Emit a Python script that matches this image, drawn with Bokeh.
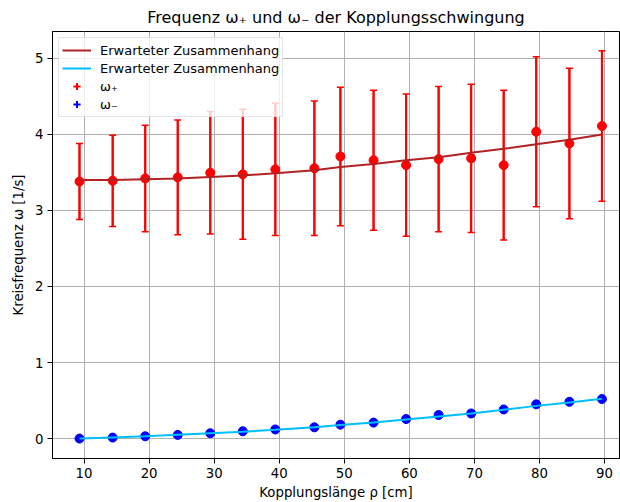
from bokeh.plotting import figure
from bokeh.models import ColumnDataSource, Whisker, TeeHead, Legend, LegendItem, FixedTicker, Range1d
from bokeh.embed import file_html
from bokeh.resources import INLINE
import numpy as np

# data
rho = [9.3, 14.4, 19.4, 24.4, 29.4, 34.4, 39.4, 45.4, 49.4, 54.5, 59.5, 64.5, 69.5, 74.5, 79.5, 84.6, 89.6]
omega_plus = [3.38, 3.39, 3.42, 3.435, 3.495, 3.475, 3.54, 3.555, 3.71, 3.66, 3.595, 3.675, 3.685, 3.595, 4.035, 3.88, 4.11]
omega_plus_err = [0.50, 0.60, 0.70, 0.755, 0.805, 0.855, 0.87, 0.885, 0.91, 0.92, 0.935, 0.955, 0.975, 0.985, 0.985, 0.99, 0.99]
omega_minus = [0.0, 0.013, 0.03, 0.048, 0.07, 0.096, 0.12, 0.148, 0.183, 0.21, 0.257, 0.31, 0.33, 0.383, 0.45, 0.484, 0.52]
expected_plus = [3.40, 3.40, 3.41, 3.42, 3.44, 3.46, 3.49, 3.53, 3.57, 3.61, 3.66, 3.70, 3.76, 3.81, 3.87, 3.93, 4.00]
expected_minus = [0.0, 0.015, 0.03, 0.05, 0.07, 0.09, 0.115, 0.15, 0.178, 0.21, 0.25, 0.29, 0.33, 0.38, 0.43, 0.475, 0.525]
x_ticks = [10, 20, 30, 40, 50, 60, 70, 80, 90]
y_ticks = [0, 1, 2, 3, 4, 5]

FONT = "DejaVu Sans"

p = figure(width=620, height=502, output_backend="svg", toolbar_location=None,
           x_range=Range1d(5.15, 92.3), y_range=Range1d(-0.262, 5.353),
           min_border_left=52, min_border_right=1, min_border_top=31, min_border_bottom=42)

p.title.text = "Frequenz ω₊ und ω₋ der Kopplungsschwingung"
p.title.align = "center"
p.title.text_font = FONT
p.title.text_font_size = "16px"
p.title.text_font_style = "normal"
p.title.text_color = "black"

p.outline_line_color = "black"
p.outline_line_width = 1
p.outline_line_alpha = 1

for ax in (p.xaxis, p.yaxis):
    ax.axis_label_text_font = FONT
    ax.axis_label_text_font_size = "13.3px"
    ax.axis_label_text_font_style = "normal"
    ax.axis_label_text_color = "black"
    ax.major_label_text_font = FONT
    ax.major_label_text_font_size = "13.3px"
    ax.major_label_text_color = "black"
    ax.major_tick_out = 5
    ax.major_tick_in = 0
    ax.minor_tick_out = 0
    ax.minor_tick_in = 0
    ax.major_label_standoff = 4
    ax.axis_line_color = "black"
    ax.major_tick_line_color = "black"

p.xaxis.axis_label = "Kopplungslänge ρ [cm]"
p.yaxis.axis_label = "Kreisfrequenz ω [1/s]"
p.xaxis.axis_label_standoff = 4
p.yaxis.axis_label_standoff = 6
p.xaxis.ticker = FixedTicker(ticks=x_ticks)
p.yaxis.ticker = FixedTicker(ticks=y_ticks)

p.grid.grid_line_color = "#b0b0b0"
p.grid.grid_line_width = 1
p.grid.grid_line_alpha = 1

src_p = ColumnDataSource(dict(x=rho, y=omega_plus,
                              upper=list(np.array(omega_plus) + np.array(omega_plus_err)),
                              lower=list(np.array(omega_plus) - np.array(omega_plus_err))))
src_m = ColumnDataSource(dict(x=rho, y=omega_minus))

# error bars
p.segment(x0="x", y0="lower", x1="x", y1="upper", source=src_p, line_color="red", line_width=2)
w = Whisker(base="x", upper="upper", lower="lower", source=src_p, dimension="height",
            line_color="red", line_width=2,
            upper_head=TeeHead(size=7, line_color="red", line_width=1.5),
            lower_head=TeeHead(size=7, line_color="red", line_width=1.5))
p.add_layout(w)

p.scatter("x", "y", source=src_p, size=9, color="red")
p.scatter("x", "y", source=src_m, size=9, color="blue")

l1 = p.line(rho, expected_plus, line_color="#b22222", line_width=2)
l2 = p.line(rho, expected_minus, line_color="#00bfff", line_width=2)

# legend dummy glyphs
nan_src = ColumnDataSource(dict(x=[np.nan], y=[np.nan]))
e1 = p.scatter("x", "y", source=nan_src, marker="cross", size=14, line_color="red", line_width=2)
e2 = p.scatter("x", "y", source=nan_src, marker="cross", size=14, line_color="blue", line_width=2)

legend = Legend(items=[
    LegendItem(label="Erwarteter Zusammenhang", renderers=[l1]),
    LegendItem(label="Erwarteter Zusammenhang", renderers=[l2]),
    LegendItem(label="ω₊", renderers=[e1]),
    LegendItem(label="ω₋", renderers=[e2]),
], location="top_left")
legend.margin = 6
legend.padding = 3
legend.spacing = 0
legend.glyph_width = 29
legend.glyph_height = 18
legend.label_height = 18
legend.label_standoff = 9
legend.label_text_font = FONT
legend.label_text_font_size = "13px"
legend.label_text_color = "black"
legend.border_line_color = "#cccccc"
legend.border_line_width = 1
legend.background_fill_alpha = 0.8
p.add_layout(legend, "center")

open("out.html", "w").write(file_html(p, INLINE))
